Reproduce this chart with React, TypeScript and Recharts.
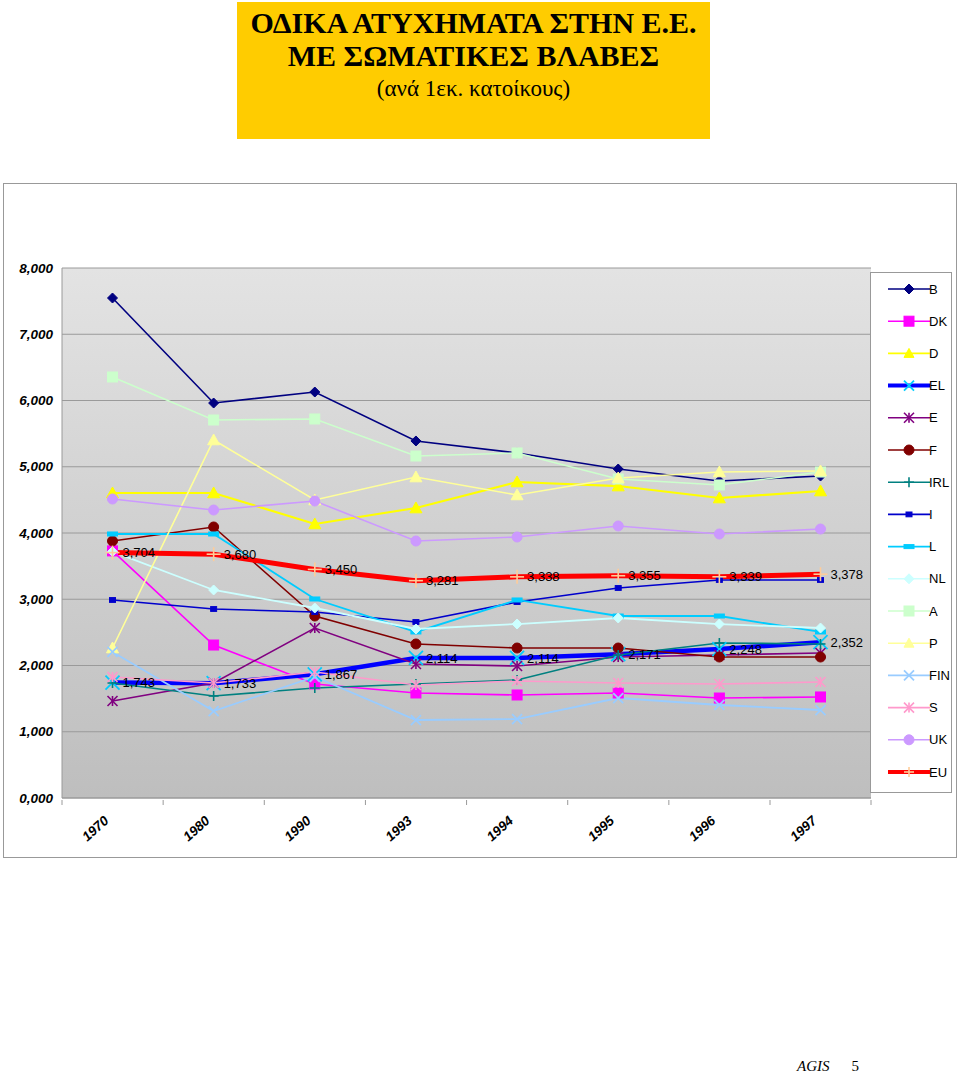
import React from "react";
import { LineChart, Line, XAxis, YAxis, CartesianGrid, LabelList } from "recharts";

const categories = ["1970", "1980", "1990", "1993", "1994", "1995", "1996", "1997"];
const yTicks = [0, 1000, 2000, 3000, 4000, 5000, 6000, 7000, 8000];
const yTickLabels = ["0,000", "1,000", "2,000", "3,000", "4,000", "5,000", "6,000", "7,000", "8,000"];

const B = [7547, 5962, 6128, 5389, 5208, 4966, 4785, 4860];
const DK = [3730, 2309, 1721, 1585, 1555, 1585, 1509, 1525];
const D = [4604, 4604, 4136, 4377, 4770, 4709, 4528, 4634];
const EL = [1743, 1733, 1867, 2114, 2114, 2171, 2248, 2352];
const E = [1464, 1736, 2566, 2023, 1992, 2128, 2158, 2189];
const F = [3879, 4091, 2747, 2325, 2264, 2264, 2128, 2128];
const IRL = [1736, 1540, 1660, 1721, 1781, 2158, 2340, 2325];
const I = [2989, 2853, 2808, 2657, 2958, 3170, 3291, 3291];
const L = [3985, 3985, 3004, 2506, 2989, 2747, 2747, 2506];
const NL = [3720, 3140, 2868, 2551, 2626, 2717, 2626, 2566];
const A = [6355, 5706, 5721, 5162, 5208, 4815, 4725, 4920];
const P = [2264, 5404, 4498, 4845, 4574, 4830, 4921, 4936];
const FIN = [2204, 1313, 1830, 1177, 1192, 1509, 1404, 1328];
const S = [1826, 1736, 1902, 1706, 1766, 1736, 1721, 1751];
const UK = [4513, 4347, 4483, 3879, 3940, 4106, 3985, 4060];
const EU = [3704, 3680, 3450, 3281, 3338, 3355, 3339, 3378];

type Shape = "diamond" | "square" | "triangle" | "x" | "asterisk" | "circle" | "plus" | "dash" | "smallsquare";

const seriesDefs: { key: string; values: number[]; color: string; marker: string; shape: Shape; width: number; size: number }[] = [
  { key: "B", values: B, color: "#000080", marker: "#000080", shape: "diamond", width: 1.6, size: 5 },
  { key: "DK", values: DK, color: "#FF00FF", marker: "#FF00FF", shape: "square", width: 1.6, size: 5 },
  { key: "D", values: D, color: "#FFFF00", marker: "#FFFF00", shape: "triangle", width: 2.2, size: 6 },
  { key: "EL", values: EL, color: "#0000FF", marker: "#00CCFF", shape: "x", width: 4.5, size: 7 },
  { key: "E", values: E, color: "#800080", marker: "#800080", shape: "asterisk", width: 1.6, size: 5 },
  { key: "F", values: F, color: "#800000", marker: "#800000", shape: "circle", width: 1.6, size: 5 },
  { key: "IRL", values: IRL, color: "#008080", marker: "#008080", shape: "plus", width: 1.6, size: 5 },
  { key: "I", values: I, color: "#0000CC", marker: "#0000CC", shape: "smallsquare", width: 1.6, size: 3 },
  { key: "L", values: L, color: "#00CCFF", marker: "#00CCFF", shape: "dash", width: 1.8, size: 5 },
  { key: "NL", values: NL, color: "#CCFFFF", marker: "#CCFFFF", shape: "diamond", width: 1.8, size: 5 },
  { key: "A", values: A, color: "#CCFFCC", marker: "#CCFFCC", shape: "square", width: 1.6, size: 5 },
  { key: "P", values: P, color: "#FFFF99", marker: "#FFFF99", shape: "triangle", width: 1.6, size: 6 },
  { key: "FIN", values: FIN, color: "#99CCFF", marker: "#99CCFF", shape: "x", width: 1.8, size: 5 },
  { key: "S", values: S, color: "#FF99CC", marker: "#FF99CC", shape: "asterisk", width: 1.6, size: 5 },
  { key: "UK", values: UK, color: "#CC99FF", marker: "#CC99FF", shape: "circle", width: 1.6, size: 5 },
  { key: "EU", values: EU, color: "#FF0000", marker: "#FFCC99", shape: "plus", width: 5, size: 7 },
];

const data = categories.map((c, i) => {
  const row: Record<string, number | string> = { year: c };
  seriesDefs.forEach((s) => {
    row[s.key] = s.values[i];
  });
  return row;
});

function Marker({ cx, cy, shape, color, size }: { cx: number; cy: number; shape: Shape; color: string; size: number }) {
  const s = size;
  switch (shape) {
    case "diamond":
      return <polygon points={`${cx},${cy - s} ${cx + s},${cy} ${cx},${cy + s} ${cx - s},${cy}`} fill={color} stroke={color} />;
    case "square":
      return <rect x={cx - s} y={cy - s} width={2 * s} height={2 * s} fill={color} stroke={color} />;
    case "smallsquare":
      return <rect x={cx - s} y={cy - s * 0.8} width={2 * s} height={1.6 * s} fill={color} stroke={color} />;
    case "dash":
      return <rect x={cx - s} y={cy - 2} width={2 * s} height={4} fill={color} stroke={color} />;
    case "triangle":
      return <polygon points={`${cx},${cy - s} ${cx + s},${cy + s * 0.8} ${cx - s},${cy + s * 0.8}`} fill={color} stroke={color} />;
    case "circle":
      return <circle cx={cx} cy={cy} r={s} fill={color} stroke={color} />;
    case "x":
      return (
        <g stroke={color} strokeWidth={1.8}>
          <line x1={cx - s} y1={cy - s} x2={cx + s} y2={cy + s} />
          <line x1={cx - s} y1={cy + s} x2={cx + s} y2={cy - s} />
        </g>
      );
    case "asterisk":
      return (
        <g stroke={color} strokeWidth={1.6}>
          <line x1={cx - s} y1={cy - s} x2={cx + s} y2={cy + s} />
          <line x1={cx - s} y1={cy + s} x2={cx + s} y2={cy - s} />
          <line x1={cx} y1={cy - s} x2={cx} y2={cy + s} />
        </g>
      );
    case "plus":
      return (
        <g stroke={color} strokeWidth={1.6}>
          <line x1={cx - s} y1={cy} x2={cx + s} y2={cy} />
          <line x1={cx} y1={cy - s} x2={cx} y2={cy + s} />
        </g>
      );
  }
  return null;
}

const makeDot = (shape: Shape, color: string, size: number) => (props: any) => {
  const { cx, cy, index } = props;
  if (cx == null || cy == null) return <g key={`d-${index}`} />;
  return (
    <g key={`d-${index}`}>
      <Marker cx={cx} cy={cy} shape={shape} color={color} size={size} />
    </g>
  );
};

const YTick = (props: any) => {
  const { x, y, payload, index } = props;
  const label = yTickLabels[yTicks.indexOf(payload.value)] ?? "";
  return (
    <text key={`yt-${index}`} x={x - 1} y={y} dy={4.5} textAnchor="end" fontFamily="Liberation Sans, Arial, sans-serif" fontSize={13.5} fontWeight="bold" fontStyle="italic" fill="#000">
      {label}
    </text>
  );
};

const XTick = (props: any) => {
  const { x, y, payload, index } = props;
  return (
    <g key={`xt-${index}`}>
      <line x1={x - 50.5} y1={y - 6} x2={x - 50.5} y2={y - 1} stroke="#9A9A9A" />
      {index === categories.length - 1 ? <line x1={x + 50.5} y1={y - 6} x2={x + 50.5} y2={y - 1} stroke="#9A9A9A" /> : null}
      <g transform={`translate(${x - 3},${y + 16})`}>
        <text x={0} y={0} textAnchor="end" transform="rotate(-42)" fontFamily="Liberation Sans, Arial, sans-serif" fontSize={13.5} fontWeight="bold" fontStyle="italic" fill="#000">
          {payload.value}
        </text>
      </g>
    </g>
  );
};

const LegendBox = () => (
  <div style={{ position: "absolute", left: 866, top: 88, width: 82, height: 521, border: "1px solid #999", background: "#fff", boxSizing: "border-box" }}>
    <svg width={80} height={519}>
      {seriesDefs.map((s, i) => {
        const cy = 16 + i * 32.2;
        return (
          <g key={s.key}>
            <line x1={17} y1={cy} x2={59} y2={cy} stroke={s.color} strokeWidth={s.width > 3 ? 4 : 1.6} />
            <Marker cx={38} cy={cy} shape={s.shape} color={s.marker} size={Math.min(s.size, 5)} />
            <text x={58} y={cy} dy={4.5} fontFamily="Liberation Sans, Arial, sans-serif" fontSize={13} fill="#000">
              {s.key}
            </text>
          </g>
        );
      })}
    </svg>
  </div>
);

export default function App() {
  return (
    <div style={{ position: "absolute", left: 0, top: 0, width: 960, height: 1076, background: "#fff" }}>
      <div
        style={{
          position: "absolute",
          left: 237,
          top: 2,
          width: 473,
          height: 137,
          background: "#FFCC00",
          fontFamily: "Liberation Serif, Times New Roman, serif",
          textAlign: "center",
          color: "#000",
        }}
      >
        <div style={{ position: "absolute", left: 0, width: 473, top: 4, fontSize: 30, fontWeight: "bold", lineHeight: "34px" }}>
          ΟΔΙΚΑ ΑΤΥΧΗΜΑΤΑ ΣΤΗΝ Ε.Ε.
        </div>
        <div style={{ position: "absolute", left: 0, width: 473, top: 37, fontSize: 30, fontWeight: "bold", lineHeight: "34px" }}>
          ΜΕ ΣΩΜΑΤΙΚΕΣ ΒΛΑΒΕΣ
        </div>
        <div style={{ position: "absolute", left: 0, width: 473, top: 72, fontSize: 23, lineHeight: "30px" }}>(ανά 1εκ. κατοίκους)</div>
      </div>

      <div style={{ position: "absolute", left: 3, top: 183, width: 952, height: 673, border: "1px solid #999", background: "#fff" }}>
        <LineChart width={952} height={673} data={data} margin={{ top: 84, right: 85, bottom: 0, left: 0 }}>
          <defs>
            <linearGradient id="plotBg" x1="0" y1="0" x2="0" y2="1">
              <stop offset="0%" stopColor="#E3E3E3" />
              <stop offset="100%" stopColor="#BEBEBE" />
            </linearGradient>
          </defs>
          <CartesianGrid vertical={false} fill="url(#plotBg)" stroke="#9A9A9A" strokeWidth={1} />
          <XAxis
            dataKey="year"
            height={59}
            interval={0}
            padding={{ left: 50.5, right: 50.5 }}
            axisLine={{ stroke: "#9A9A9A" }}
            tickLine={false}
            tick={<XTick />}
          />
          <YAxis
            width={58}
            domain={[0, 8000]}
            ticks={yTicks}
            interval={0}
            axisLine={{ stroke: "#9A9A9A" }}
            tickLine={false}
            tick={<YTick />}
          />
          {seriesDefs.map((s) => (
            <Line
              key={s.key}
              type="linear"
              dataKey={s.key}
              stroke={s.color}
              strokeWidth={s.width}
              dot={makeDot(s.shape, s.marker, s.size)}
              activeDot={false}
              isAnimationActive={false}
            >
              {s.key === "EU" || s.key === "EL" ? (
                <LabelList
                  dataKey={s.key}
                  position="right"
                  offset={10}
                  formatter={(v: any) => Number(v).toLocaleString("en-US")}
                  style={{ fontFamily: "Liberation Sans, Arial, sans-serif", fontSize: 13, fill: "#000" }}
                />
              ) : null}
            </Line>
          ))}
        </LineChart>
        <LegendBox />
      </div>

      <div style={{ position: "absolute", left: 797, top: 1058, fontFamily: "Liberation Serif, Times New Roman, serif", fontSize: 15, color: "#000" }}>
        <span style={{ fontStyle: "italic" }}>AGIS</span>
        <span style={{ marginLeft: 22 }}>5</span>
      </div>
    </div>
  );
}
